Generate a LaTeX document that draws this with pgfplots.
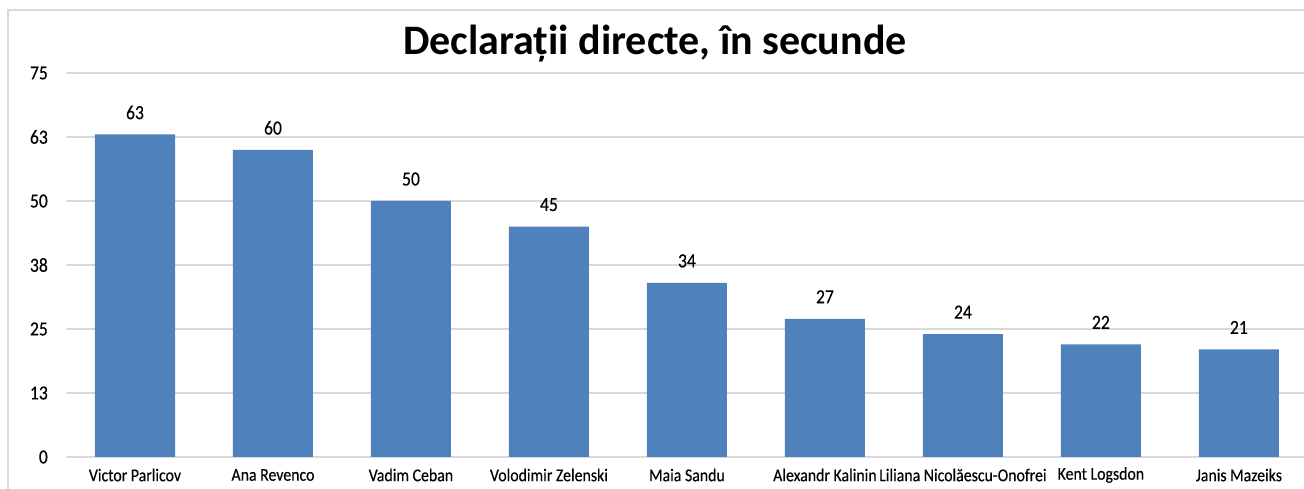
\documentclass[border=0pt]{standalone}
\usepackage{pgfplots}
\pgfplotsset{compat=1.18}
\usepackage{fontspec}
\setmainfont{Carlito}
\newfontfamily\condensed{Carlito}[FakeStretch=0.88,FakeBold=0.3]
\definecolor{barblue}{HTML}{4F81BD}
\definecolor{gridgray}{HTML}{D9D9D9}
\begin{document}
\begin{tikzpicture}[x=1pt,y=1pt]
\useasboundingbox (0,0) rectangle (1304,489);
\clip (0,0) rectangle (1304,489);
\draw[gridgray, line width=1.5pt] (8,479) rectangle (1340,-40);
\begin{axis}[
  at={(66pt,32pt)}, anchor=south west,
  scale only axis, width=1242pt, height=384pt,
  xmin=-0.5, xmax=8.5, ymin=0, ymax=75,
  axis line style={draw=none},
  major tick length=0pt,
  xtick=data,
  xticklabels={Victor Parlicov, Ana Revenco, Vadim Ceban, Volodimir Zelenski, Maia Sandu, Alexandr Kalinin, Liliana Nicolăescu-Onofrei, Kent Logsdon, Janis Mazeiks},
  ytick={0,12.5,25,37.5,50,62.5,75},
  yticklabels={0,13,25,38,50,63,75},
  ymajorgrids, grid style={gridgray, line width=1.5pt},
  xticklabel style={font=\condensed\fontsize{18}{20}\selectfont, anchor=center, yshift=-18pt, inner sep=0pt},
  yticklabel style={font=\condensed\fontsize{20}{22}\selectfont, anchor=east, xshift=-18pt, inner sep=0pt},
  /pgf/number format/assume math mode=true,
  ybar, bar width=0.58,
  nodes near coords,
  every node near coord/.append style={font=\condensed\fontsize{20}{22}\selectfont, anchor=center, yshift=22pt, inner sep=0pt},
  clip=false,
]
\addplot[fill=barblue, draw=none] coordinates {(0,63) (1,60) (2,50) (3,45) (4,34) (5,27) (6,24) (7,22) (8,21)};
\end{axis}
\node[anchor=base, font=\fontsize{42}{46}\selectfont\bfseries] at (655,434) {Declarații directe, în secunde};
\end{tikzpicture}
\end{document}
